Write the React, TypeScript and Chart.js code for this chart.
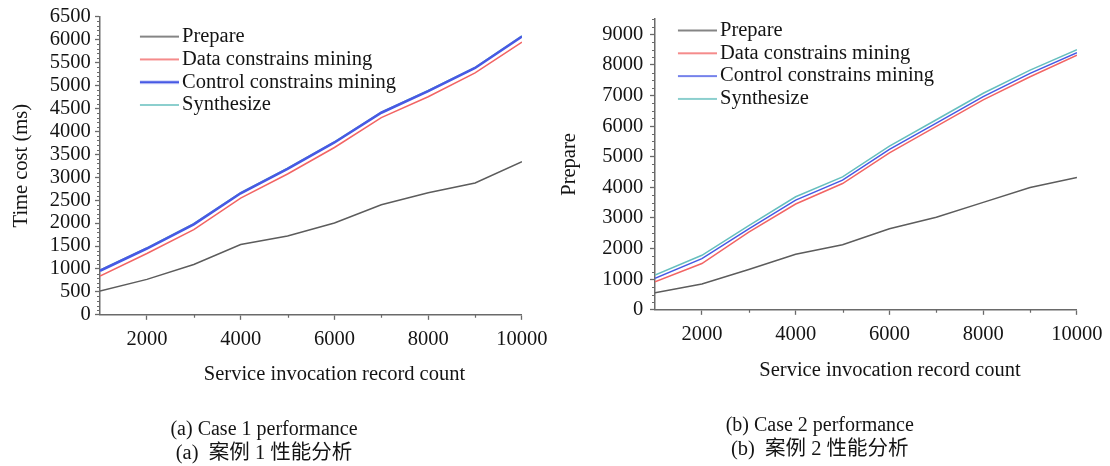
import { useEffect, useRef } from 'react';
import { Chart, registerables } from 'chart.js';

Chart.register(...registerables);

// ---------- data ----------
const xValues = [1000, 2000, 3000, 4000, 5000, 6000, 7000, 8000, 9000, 10000];
const seriesNames = ['Prepare', 'Data constrains mining', 'Control constrains mining', 'Synthesize'];

const case1Prepare = [520, 773, 1098, 1531, 1720, 2000, 2398, 2659, 2875, 3337];
const case1Data = [845, 1336, 1857, 2542, 3070, 3647, 4297, 4753, 5272, 5944];
const case1Control = [960, 1445, 1972, 2650, 3180, 3756, 4405, 4875, 5380, 6067];
const case1Synth = [975, 1460, 1988, 2665, 3195, 3770, 4420, 4890, 5395, 6082];

const case2Prepare = [561, 843, 1318, 1815, 2129, 2647, 3024, 3510, 3996, 4320];
const case2Data = [917, 1512, 2538, 3456, 4125, 5130, 5995, 6860, 7615, 8317];
const case2Control = [1027, 1674, 2646, 3586, 4235, 5240, 6102, 6967, 7722, 8403];
const case2Synth = [1134, 1782, 2754, 3694, 4342, 5347, 6210, 7075, 7830, 8500];

const xTickLabels = [2000, 4000, 6000, 8000, 10000];
const case1YTicks = [0, 500, 1000, 1500, 2000, 2500, 3000, 3500, 4000, 4500, 5000, 5500, 6000, 6500];
const case2YTicks = [0, 1000, 2000, 3000, 4000, 5000, 6000, 7000, 8000, 9000];

const xAxisTitle = 'Service invocation record count';
const case1YTitle = 'Time cost (ms)';
const case2YTitle = 'Prepare';
const case1Caption = '(a) Case 1 performance';
const case1CaptionZh = '(a)  案例 1 性能分析';
const case2Caption = '(b) Case 2 performance';
const case2CaptionZh = '(b)  案例 2 性能分析';

// ---------- style ----------
const SERIF = "'Liberation Serif', 'Times New Roman', serif";
const TEXT = '#141414';
const AXIS = '#6a6a6a';
const COLORS = ['#5c5c5c', '#f26464', '#4759e4', '#66bfbe'];
const FS = 20.5;

Chart.defaults.font.family = SERIF;
Chart.defaults.font.size = FS;
Chart.defaults.color = TEXT;

function lineImage(color: string, width: number, len: number) {
  const c = document.createElement('canvas');
  c.width = len;
  c.height = 6;
  const g = c.getContext('2d')!;
  g.strokeStyle = color;
  g.lineWidth = width;
  g.beginPath();
  g.moveTo(0, 3);
  g.lineTo(len, 3);
  g.stroke();
  return c;
}

const legendPlace = {
  id: 'legendPlace',
  afterLayout(chart: any, _a: any, opts: any) {
    const l = chart.legend;
    if (!l) return;
    const w = l.width;
    const h = l.height;
    l.left = chart.chartArea.left + opts.dx;
    l.top = chart.chartArea.top + opts.dy;
    l.right = l.left + w;
    l.bottom = l.top + h;
  },
};

const xTitlePlugin = {
  id: 'xTitle',
  afterDraw(chart: any, _a: any, opts: any) {
    const { ctx, chartArea } = chart;
    ctx.save();
    ctx.font = `${FS}px ${SERIF}`;
    ctx.fillStyle = TEXT;
    ctx.textAlign = 'center';
    ctx.textBaseline = 'alphabetic';
    ctx.fillText(opts.text, (chartArea.left + chartArea.right) / 2 + opts.dx, chartArea.bottom + opts.dy);
    ctx.restore();
  },
};

const minorTicks = {
  id: 'minorTicks',
  afterDraw(chart: any, _a: any, opts: any) {
    const { ctx } = chart;
    const xs = chart.scales.x;
    const ys = chart.scales.y;
    ctx.save();
    ctx.strokeStyle = AXIS;
    ctx.lineWidth = 1.2;
    ctx.beginPath();
    for (let v = xs.min; v <= xs.max + 1e-6; v += opts.xStep) {
      if (opts.xMajor.includes(v) || v === xs.min) continue;
      const p = Math.round(xs.getPixelForValue(v)) + 0.5;
      ctx.moveTo(p, xs.top);
      ctx.lineTo(p, xs.top + opts.len);
    }
    for (let v = ys.min; v <= ys.max + 1e-6; v += opts.yStep) {
      if (opts.yMajor.includes(v)) continue;
      const p = Math.round(ys.getPixelForValue(v)) + 0.5;
      ctx.moveTo(ys.right - opts.len, p);
      ctx.lineTo(ys.right, p);
    }
    ctx.stroke();
    ctx.restore();
  },
};

type Cfg = {
  series: number[][];
  widths: number[];
  order: number[];
  yMax: number;
  yTicks: number[];
  yStep: number;
  yTitle: string;
  yTitlePad: number;
  yLabelPad: number;
  yAxisWidth: number;
  caption: string;
  captionZh: string;
  xAxisHeight: number;
  padding: { left: number; right: number; top: number; bottom: number };
  legendDx: number;
  legendDy: number;
  xTitleDx: number;
  xTitleDy: number;
};

function buildConfig(c: Cfg): any {
  return {
    type: 'line',
    data: {
      datasets: seriesNames.map((name, i) => ({
        label: name,
        data: xValues.map((x, j) => ({ x, y: c.series[i][j] })),
        borderColor: COLORS[i],
        backgroundColor: COLORS[i],
        borderWidth: c.widths[i],
        pointRadius: 0,
        pointHoverRadius: 0,
        pointStyle: lineImage(COLORS[i], Math.max(1.6, c.widths[i]), 43),
        tension: 0,
        fill: false,
        order: c.order[i],
      })),
    },
    options: {
      responsive: false,
      animation: false,
      events: [],
      layout: { padding: c.padding },
      scales: {
        x: {
          type: 'linear',
          min: 1000,
          max: 10000,
          afterBuildTicks: (a: any) => {
            a.ticks = xTickLabels.map((v) => ({ value: v }));
          },
          afterFit: (s: any) => {
            s.height = c.xAxisHeight;
          },
          ticks: {
            autoSkip: false,
            maxRotation: 0,
            padding: 7.4,
            color: TEXT,
            font: { size: FS },
            callback: (v: any) => String(v),
          },
          grid: { drawOnChartArea: false, tickLength: 5, tickColor: AXIS, tickWidth: 1.3 },
          border: { color: AXIS, width: 1.5 },
        },
        y: {
          type: 'linear',
          min: 0,
          max: c.yMax,
          afterBuildTicks: (a: any) => {
            a.ticks = c.yTicks.map((v) => ({ value: v }));
          },
          afterFit: (s: any) => {
            s.width = c.yAxisWidth;
          },
          ticks: {
            autoSkip: false,
            padding: c.yLabelPad,
            color: TEXT,
            font: { size: FS },
            callback: (v: any) => String(v),
          },
          title: {
            display: true,
            text: c.yTitle,
            color: TEXT,
            font: { size: FS, lineHeight: 1.2 },
            padding: { top: c.yTitlePad, bottom: 0 },
          },
          grid: { drawOnChartArea: false, tickLength: 5, tickColor: AXIS, tickWidth: 1.3 },
          border: { color: AXIS, width: 1.5 },
        },
      },
      plugins: {
        tooltip: { enabled: false },
        legend: {
          display: true,
          position: 'chartArea',
          align: 'start',
          labels: {
            usePointStyle: true,
            pointStyleWidth: 29.5,
            padding: 2.3,
            color: TEXT,
            font: { size: FS, lineHeight: 1 },
            sort: (a: any, b: any) => a.datasetIndex - b.datasetIndex,
          },
        },
        title: {
          display: true,
          position: 'bottom',
          text: c.caption,
          color: TEXT,
          font: { size: 20, weight: 'normal', lineHeight: 1.2 },
          padding: 0,
          weight: 1000,
        },
        subtitle: {
          display: true,
          position: 'bottom',
          text: c.captionZh,
          color: TEXT,
          font: { size: 20.5, weight: 'normal', lineHeight: 1.12, family: "'Liberation Serif', 'Noto Sans CJK SC', sans-serif" },
          padding: 0,
          weight: 1500,
        },
        legendPlace: { dx: c.legendDx, dy: c.legendDy },
        xTitle: { text: xAxisTitle, dx: c.xTitleDx, dy: c.xTitleDy },
        minorTicks: { xStep: 1000, xMajor: xTickLabels, yStep: c.yStep, yMajor: c.yTicks, len: 3 },
      },
    },
    plugins: [legendPlace, xTitlePlugin, minorTicks],
  };
}

function ChartCanvas({ cfg, left, width }: { cfg: Cfg; left: number; width: number }) {
  const ref = useRef<HTMLCanvasElement>(null);
  useEffect(() => {
    if (!ref.current) return;
    const chart = new Chart(ref.current, buildConfig(cfg));
    return () => chart.destroy();
  }, []);
  return (
    <canvas
      ref={ref}
      width={width}
      height={466}
      style={{ position: 'absolute', left, top: 0, width, height: 466 }}
    />
  );
}

const leftCfg: Cfg = {
  series: [case1Prepare, case1Data, case1Control, case1Synth],
  widths: [1.5, 1.5, 2.6, 1.5],
  order: [0, 1, 0, 2],
  yMax: 6500,
  yTicks: case1YTicks,
  yStep: 100,
  yTitle: case1YTitle,
  yTitlePad: 9.2,
  yLabelPad: 4.3,
  yAxisWidth: 100,
  caption: case1Caption,
  captionZh: case1CaptionZh,
  xAxisHeight: 103,
  padding: { left: 0, right: 27, top: 15, bottom: 1.2 },
  legendDx: 42.25 - 2.3 - 0,
  legendDy: 22.45 - 15,
  xTitleDx: 23.5,
  xTitleDy: 65.5,
};

const rightCfg: Cfg = {
  series: [case2Prepare, case2Data, case2Control, case2Synth],
  widths: [1.5, 1.5, 1.5, 1.5],
  order: [0, 3, 2, 1],
  yMax: 9500,
  yTicks: case2YTicks,
  yStep: 250,
  yTitle: case2YTitle,
  yTitlePad: 0.7,
  yLabelPad: 6.7,
  yAxisWidth: 98,
  caption: case2Caption,
  captionZh: case2CaptionZh,
  xAxisHeight: 104,
  padding: { left: 0, right: 27.5, top: 16.8, bottom: 5.2 },
  legendDx: 680.25 - 2.3 - 655,
  legendDy: 15.75 - 16.8,
  xTitleDx: 24,
  xTitleDy: 66,
};

export default function App() {
  return (
    <div style={{ position: 'absolute', left: 0, top: 0, width: 1110, height: 466, background: '#ffffff', overflow: 'hidden' }}>
      <ChartCanvas cfg={leftCfg} left={0} width={555} />
      <ChartCanvas cfg={rightCfg} left={557} width={553} />
    </div>
  );
}
